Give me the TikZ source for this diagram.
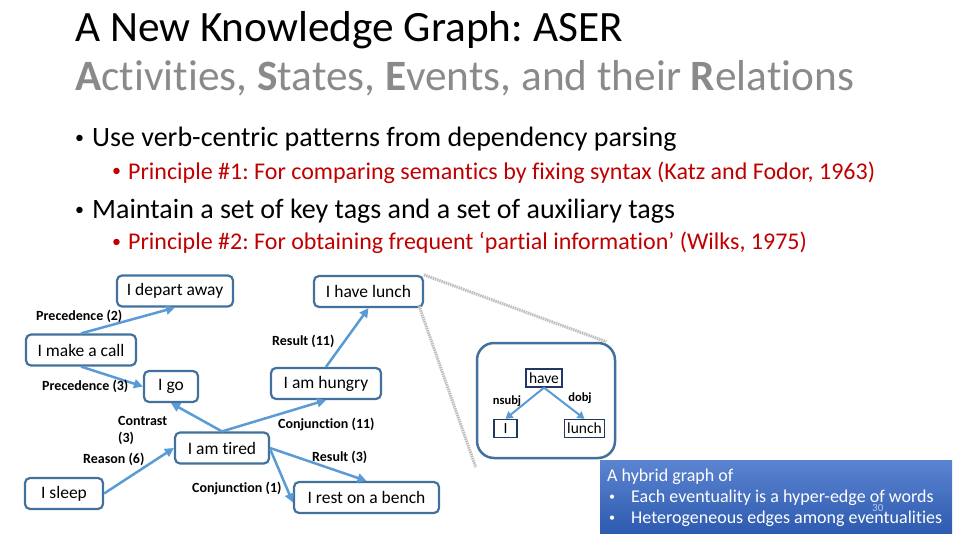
\documentclass[tikz,border=0pt]{standalone}
\usepackage{fontspec}
\setmainfont{Carlito}[Ligatures={NoCommon}]
\usetikzlibrary{arrows.meta,positioning}
\frenchspacing

\definecolor{boxblue}{HTML}{41719C}
\definecolor{edgeblue}{HTML}{5B9BD5}
\definecolor{princred}{HTML}{C00000}
\definecolor{subgray}{HTML}{8A8A8A}
\definecolor{wordnavy}{HTML}{1F3864}
\definecolor{notetop}{HTML}{5B84D0}
\definecolor{notebot}{HTML}{2E5BB0}

\begin{document}
\begin{tikzpicture}[
    x=1pt, y=-1pt,
    event/.style={draw=boxblue, line width=2.2pt, rounded corners=5pt, fill=white,
        font=\fontsize{17.5}{20}\selectfont, minimum height=31pt, inner xsep=6pt},
    word/.style={draw=wordnavy, line width=1.3pt, font=\fontsize{15.5}{17}\selectfont,
        inner xsep=3pt, inner ysep=1.5pt, minimum height=18pt},
    rel/.style={-{Triangle[length=9pt, width=9pt]}, edgeblue, line width=2.5pt},
    dep/.style={-{Triangle[length=7pt, width=8pt]}, edgeblue, line width=2pt},
    rellabel/.style={font=\bfseries\fontsize{14}{17}\selectfont, inner sep=0pt},
    zoomline/.style={gray!50, line width=3pt, dash pattern=on 1.5pt off 0.8pt},
    textline/.style={anchor=base west, inner sep=0pt}
]

% ---------- Page ----------
\useasboundingbox (0,0) rectangle (960,540);

% ---------- Heading ----------
\def\headsize{\fontsize{43.3}{48}\selectfont}
\node[textline, font=\headsize] (title) at (75,42) {A New Knowledge Graph: ASER};
\node[textline, font=\headsize, text=subgray] (subtitle) at (75,91)
    {\textbf{A}ctivities, \textbf{S}tates, \textbf{E}vents, and their \textbf{R}elations};

% ---------- Bullets ----------
\def\mainsize{\fontsize{28}{30}\selectfont}
\def\subsize{\fontsize{24}{26}\selectfont}
\def\dotsize{\fontsize{18}{20}\selectfont}
\node[textline, font=\dotsize] (dotone) at (75,144) {•};
\node[textline, font=\mainsize] (pointone) at (92,147)
    {Use verb-centric patterns from dependency parsing};
\node[textline, font=\dotsize, text=princred] (dotsubone) at (112,177) {•};
\node[textline, font=\subsize, text=princred] (subone) at (128,179)
    {Principle \#1: For comparing semantics by fixing syntax (Katz and Fodor, 1963)};
\node[textline, font=\dotsize] (dottwo) at (75,215) {•};
\node[textline, font=\mainsize] (pointtwo) at (92,218)
    {Maintain a set of key tags and a set of auxiliary tags};
\node[textline, font=\dotsize, text=princred] (dotsubtwo) at (112,247) {•};
\node[textline, font=\subsize, text=princred] (subtwo) at (128,249)
    {Principle \#2: For obtaining frequent ‘partial information’ (Wilks, 1975)};

% ---------- Eventualities ----------
\node[event, minimum width=116pt] (depart) at (175,291) {I depart away};
\node[event, minimum width=109pt] (lunch)  at (368.5,291.5) {I have lunch};
\node[event, minimum width=110pt] (call)   at (81,350) {I make a call};
\node[event, minimum width=54pt]  (go)     at (171,386.5) {I go};
\node[event, minimum width=110pt] (hungry) at (326,383.5) {I am hungry};
\node[event, minimum width=94pt]  (tired)  at (222,448) {I am tired};
\node[event, minimum width=78pt]  (sleep)  at (64,493.5) {I sleep};
\node[event, minimum width=145pt] (bench)  at (366.5,497.5) {I rest on a bench};

% ---------- Relations ----------
\draw[rel] (call.north) -- (depart.south);
\draw[rel] (call.south) -- (go.west);
\draw[rel] (hungry.north) -- (lunch.south);
\draw[rel] (tired.north) -- (go.south);
\draw[rel] (tired.north) -- (hungry.south);
\draw[rel] (sleep.east) -- (tired.west);
\draw[rel] (tired.east) -- (bench.north);
\draw[rel] ([yshift=-1pt]tired.east) -- ([yshift=-5pt]bench.west);

\node[rellabel, anchor=west] (lbprecone) at (36,316) {Precedence (2)};
\node[rellabel, anchor=west] (lbprectwo) at (42,386) {Precedence (3)};
\node[rellabel, anchor=west] (lbresone)  at (272,341) {Result (11)};
\node[rellabel, anchor=west, align=left] (lbcontr) at (118,430.5) {Contrast\\(3)};
\node[rellabel, anchor=west] (lbreason)  at (83,459) {Reason (6)};
\node[rellabel, anchor=west] (lbconjone) at (278,424) {Conjunction (11)};
\node[rellabel, anchor=west] (lbrestwo)  at (312,457) {Result (3)};
\node[rellabel, anchor=west] (lbconjtwo) at (192,488) {Conjunction (1)};

% ---------- Hyper-edge of words ----------
\node[draw=boxblue, line width=2.5pt, rounded corners=17pt,
    minimum width=138pt, minimum height=115pt] (hyper) at (546,400.5) {};
\draw[zoomline] (lunch.north east) -- ([xshift=-10pt]hyper.north east);
\draw[zoomline] ([xshift=-5pt,yshift=2pt]lunch.south east) -- ([yshift=-8pt]hyper.south west);

\node[word] (have)  at (544,378) {have};
\node[word, minimum width=23pt] (wordi) at (505.5,428.5) {I};
\node[word] (wordlunch) at (584.5,428.5) {lunch};
\draw[dep] (have.south) -- (wordi.north);
\draw[dep] (have.south) -- (wordlunch.north);
\node[rellabel, font=\bfseries\fontsize{12.5}{15}\selectfont] (lbnsubj) at (507,401) {nsubj};
\node[rellabel, font=\bfseries\fontsize{12.5}{15}\selectfont] (lbdobj)  at (580,398) {dobj};

% ---------- Note ----------
\node[anchor=north west, minimum width=352pt, minimum height=73pt, inner sep=0pt,
    top color=notetop, bottom color=notebot] (note) at (600,460) {};
\def\notesize{\fontsize{18}{20}\selectfont}
\def\notedot{\fontsize{12}{14}\selectfont}
\node[textline, font=\notesize, text=white] (notehead) at (607,481) {A hybrid graph of};
\node[textline, font=\notedot, text=white] (dotnoteone) at (609,500) {•};
\node[textline, font=\notesize, text=white] (noteone) at (631,502)
    {Each eventuality is a hyper-edge of words};
\node[textline, font=\notedot, text=white] (dotnotetwo) at (609,521) {•};
\node[textline, font=\notesize, text=white] (notetwo) at (631,523)
    {Heterogeneous edges among eventualities};
\node[textline, font=\fontsize{11}{12}\selectfont, text=white!55!notetop] (pagenum) at (872,511) {30};

\end{tikzpicture}
\end{document}
